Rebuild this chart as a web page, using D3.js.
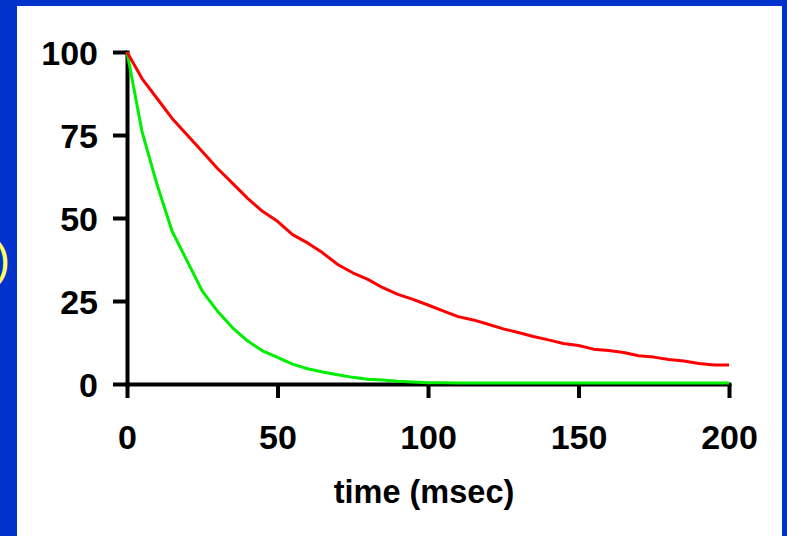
<!DOCTYPE html>
<html>
<head>
<meta charset="utf-8">
<script src="https://cdn.jsdelivr.net/npm/d3@7"></script>
<style>
  html, body { margin: 0; padding: 0; background: #0033cc; }
  svg { display: block; }
</style>
</head>
<body>
<svg id="chart" width="787" height="536"></svg>
<script>
// Sample times (msec)
const times = [0, 5, 10, 15, 20, 25, 30, 35, 40, 45, 50, 55, 60, 65, 70, 75, 80, 85, 90, 95,
  100, 105, 110, 115, 120, 125, 130, 135, 140, 145, 150, 155, 160, 165, 170, 175, 180, 185, 190, 195, 200];

// Slow decay (red)
const slowValues = [100, 92, 86, 80, 75, 70, 65, 60.5, 56, 52, 49, 45, 42.5, 39.5, 36, 33.5, 31.5, 29, 27, 25.5,
  23.8, 22, 20.3, 19.3, 18, 16.6, 15.5, 14.3, 13.3, 12.2, 11.6, 10.5, 10.1, 9.5, 8.5, 8.1, 7.4, 6.9, 6.2, 5.7, 5.7];

// Fast decay (green)
const fastValues = [100, 76, 60, 46, 37, 28, 22, 17, 13, 10, 8, 6, 4.6, 3.6, 2.8, 2, 1.4, 1.2, 0.8, 0.6,
  0.4, 0.4, 0.3, 0.3, 0.3, 0.3, 0.3, 0.3, 0.3, 0.3, 0.3, 0.3, 0.3, 0.3, 0.3, 0.3, 0.3, 0.3, 0.3, 0.3, 0.3];

const xTicks = [0, 50, 100, 150, 200];
const yTicks = [0, 25, 50, 75, 100];
const xTitle = "time (msec)";

const svg = d3.select("#chart");
const font = "'Liberation Sans', Arial, Helvetica, sans-serif";

// white panel on the blue slide
svg.append("rect")
  .attr("x", 17).attr("y", 6)
  .attr("width", 765).attr("height", 530)
  .attr("fill", "#ffffff");

// trailing parenthesis of the slide text to the left
svg.append("text")
  .attr("x", 10).attr("y", 275)
  .attr("text-anchor", "end")
  .attr("font-family", font)
  .attr("font-size", 46)
  .attr("fill", "#ffff66")
  .text(")");

const x = d3.scaleLinear().domain([0, 200]).range([127, 729]);
const y = d3.scaleLinear().domain([0, 100]).range([384, 52]);

// axes
const yAxis = d3.axisLeft(y).tickValues(yTicks).tickSize(14).tickSizeOuter(0).tickPadding(15);
const xAxis = d3.axisBottom(x).tickValues(xTicks).tickSize(14).tickSizeOuter(0).tickPadding(27);

const gy = svg.append("g").attr("transform", `translate(${x(0)},0)`).call(yAxis);
const gx = svg.append("g").attr("transform", `translate(0,${y(0)})`).call(xAxis);

[gy, gx].forEach(g => {
  g.select(".domain")
    .attr("stroke", "#000").attr("stroke-width", 4)
    .attr("stroke-linecap", "square");
  g.selectAll(".tick line").attr("stroke", "#000").attr("stroke-width", 4);
  g.selectAll(".tick text")
    .attr("fill", "#000")
    .attr("font-family", font)
    .attr("font-weight", "bold")
    .attr("font-size", 34);
});
gy.selectAll(".tick text").attr("dy", "0.38em");

// axis title
svg.append("text")
  .attr("x", 424).attr("y", 503)
  .attr("text-anchor", "middle")
  .attr("font-family", font)
  .attr("font-weight", "bold")
  .attr("font-size", 32.5)
  .attr("fill", "#000")
  .text(xTitle);

// decay curves
const line = vals => d3.line()
  .x((d, i) => x(times[i]))
  .y(d => y(d))(vals);

svg.append("path")
  .attr("d", line(fastValues))
  .attr("fill", "none")
  .attr("stroke", "#00ee00")
  .attr("stroke-width", 3)
  .attr("stroke-linejoin", "round");

svg.append("path")
  .attr("d", line(slowValues))
  .attr("fill", "none")
  .attr("stroke", "#ff0000")
  .attr("stroke-width", 3)
  .attr("stroke-linejoin", "round");
</script>
</body>
</html>
